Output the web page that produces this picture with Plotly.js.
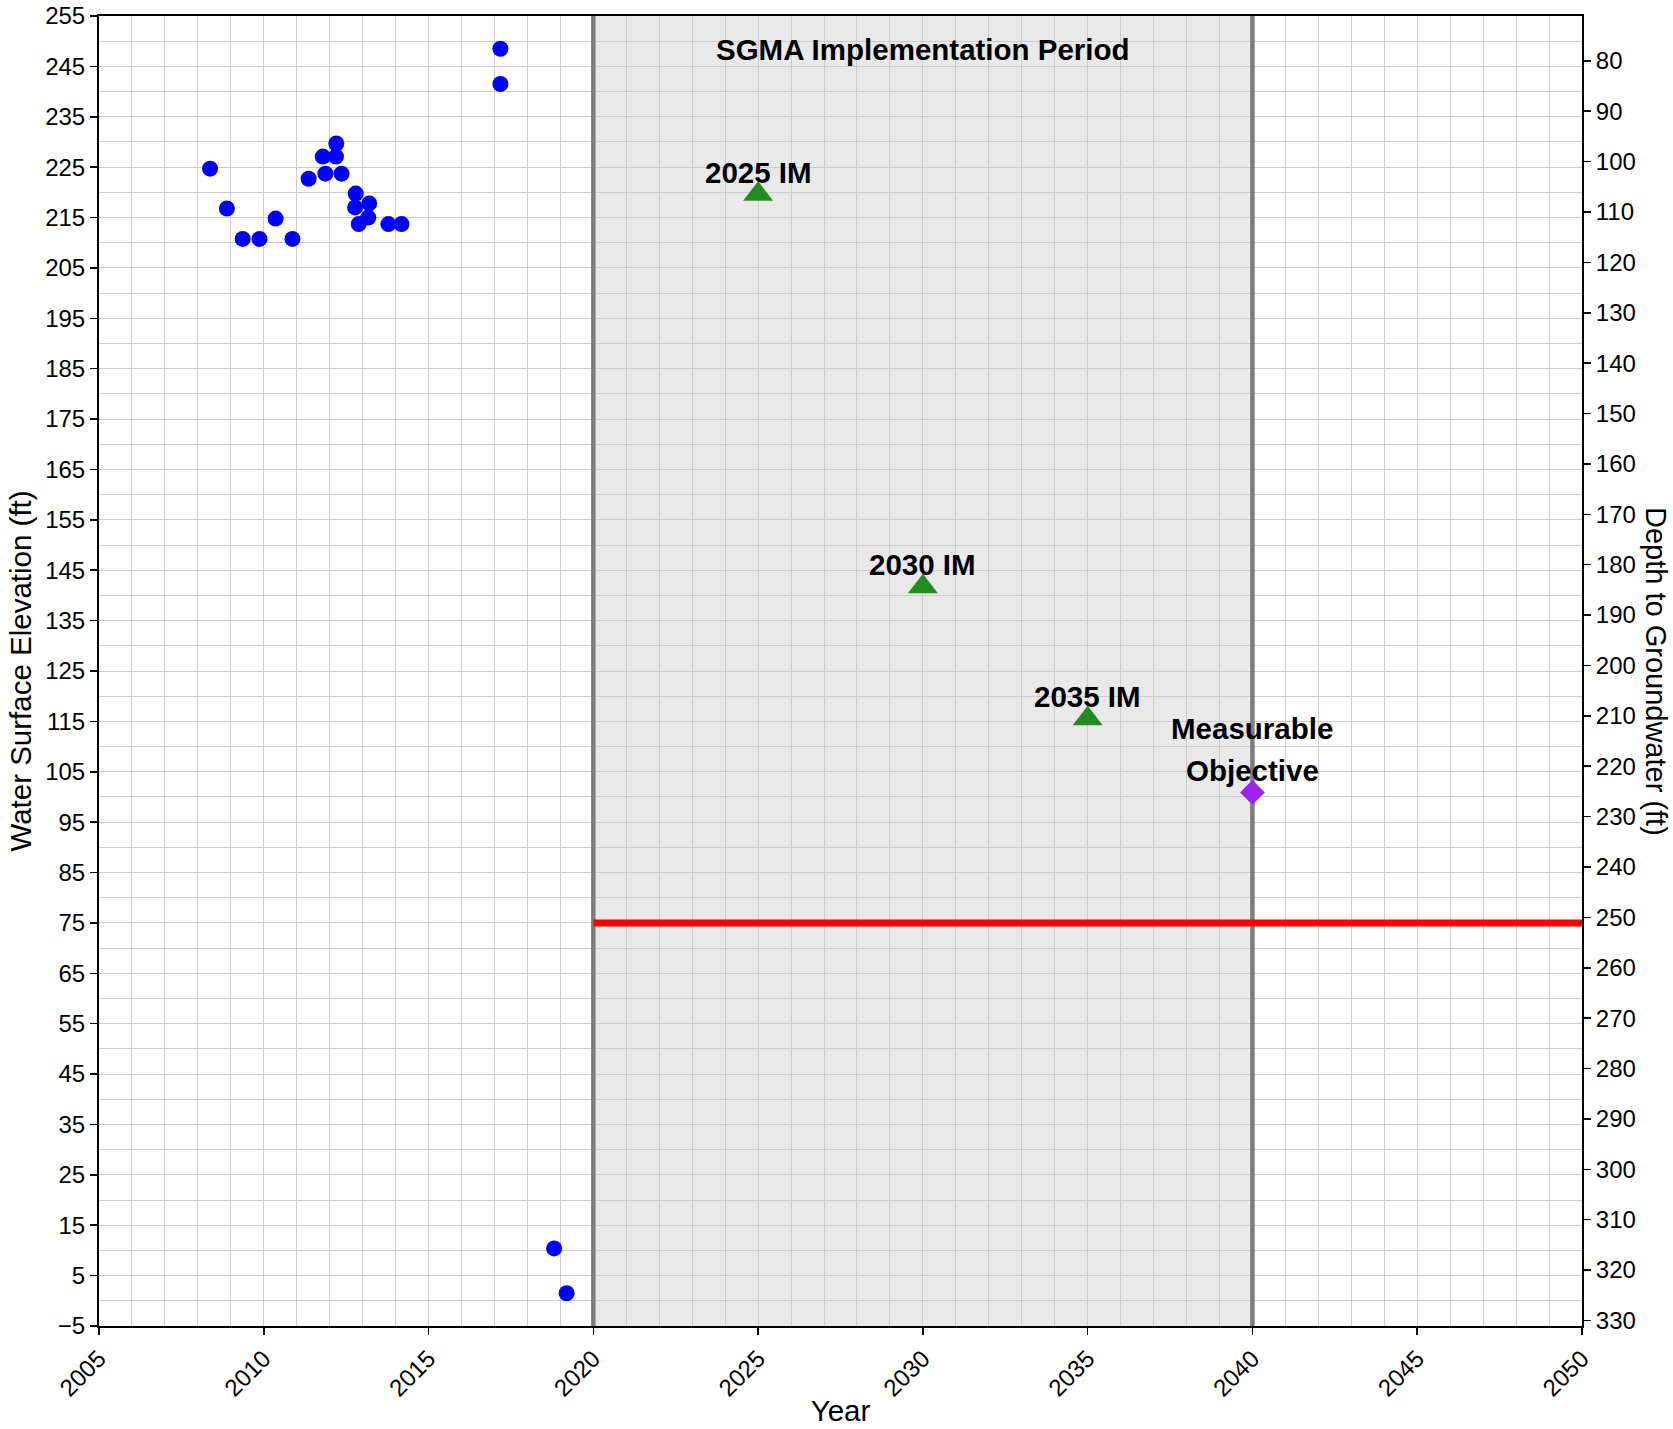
<!DOCTYPE html>
<html>
<head>
<meta charset="utf-8">
<script src="https://cdn.plot.ly/plotly-3.0.1.min.js"></script>
<style>html,body{margin:0;padding:0;background:#fff;}#chart{width:1673px;height:1429px;}</style>
</head>
<body>
<div id="chart"></div>
<script>
// Observed water surface elevations (ft)
const obsYears = [2008.37, 2008.88, 2009.36, 2009.87, 2010.36, 2010.87, 2011.36, 2011.79, 2011.87, 2012.19, 2012.20, 2012.36, 2012.77, 2012.79, 2012.88, 2013.17, 2013.20, 2013.78, 2014.18, 2017.18, 2017.18, 2018.81, 2019.19];
const obsElev  = [224.7, 216.8, 210.75, 210.75, 214.8, 210.75, 222.7, 227.1, 223.7, 227.1, 229.7, 223.7, 217.0, 219.75, 213.7, 215.0, 217.8, 213.7, 213.7, 248.5, 241.5, 10.4, 1.5];

// Interim milestones
const imYears  = [2025, 2030, 2035];
const imElev   = [219.6, 141.7, 115.5];
const imLabels = ['2025 IM', '2030 IM', '2035 IM'];

// Measurable objective
const moYear = [2040];
const moElev = [100.9];

// Minimum threshold line
const mtYears = [2020, 2050];
const mtElev  = [75, 75];

// SGMA implementation period
const sgmaStart = 2020;
const sgmaEnd   = 2040;

// Ground surface elevation (depth = ground - elevation)
const groundElev = 326.1;
const elevRange = [-5, 255];
const yearRange = [2005, 2050];

const FONT = 'Liberation Sans, Arial, Helvetica, sans-serif';
const GRID = '#cccccc';
const TICK = 24;
const TITLE = 29.5;
const ANN = 29.5;

const periodLine = (yr) => ({x: [yr, yr], y: elevRange, type: 'scatter', mode: 'lines',
  line: {color: '#7d7d7d', width: 4.5}, hoverinfo: 'skip', showlegend: false, cliponaxis: true});

const traces = [
  periodLine(sgmaStart),
  periodLine(sgmaEnd),
  {x: obsYears, y: obsElev, type: 'scatter', mode: 'markers',
   marker: {color: '#0000ff', size: 16}, hoverinfo: 'skip', showlegend: false},
  {x: mtYears, y: mtElev, type: 'scatter', mode: 'lines',
   line: {color: '#ff0000', width: 7}, hoverinfo: 'skip', showlegend: false},
  {x: imYears, y: imElev, type: 'scatter', mode: 'markers',
   marker: {color: '#228b22', size: 26, symbol: 'triangle-up'}, hoverinfo: 'skip', showlegend: false},
  {x: moYear, y: moElev, type: 'scatter', mode: 'markers',
   marker: {color: '#a020f0', size: 19, symbol: 'diamond'}, hoverinfo: 'skip', showlegend: false},
  // invisible trace to bind the right (depth) axis
  {x: yearRange, y: [groundElev - elevRange[0], groundElev - elevRange[1]], yaxis: 'y2', type: 'scatter',
   mode: 'markers', marker: {opacity: 0}, hoverinfo: 'skip', showlegend: false}
];

const annotations = [];
imYears.forEach((yr, i) => {
  annotations.push({x: yr, y: imElev[i], xref: 'x', yref: 'y', text: '<b>' + imLabels[i] + '</b>',
    showarrow: false, xanchor: 'center', yanchor: 'middle', yshift: 22,
    font: {family: FONT, size: ANN, color: '#000'}});
});
annotations.push({x: moYear[0], y: moElev[0], xref: 'x', yref: 'y', text: '<b>Measurable</b>',
  showarrow: false, xanchor: 'center', yanchor: 'middle', yshift: 64,
  font: {family: FONT, size: ANN, color: '#000'}});
annotations.push({x: moYear[0], y: moElev[0], xref: 'x', yref: 'y', text: '<b>Objective</b>',
  showarrow: false, xanchor: 'center', yanchor: 'middle', yshift: 22,
  font: {family: FONT, size: ANN, color: '#000'}});
annotations.push({x: (sgmaStart + sgmaEnd) / 2, y: 248.4, xref: 'x', yref: 'y',
  text: '<b>SGMA Implementation Period</b>', showarrow: false, xanchor: 'center', yanchor: 'middle',
  font: {family: FONT, size: ANN, color: '#000'}});
annotations.push({x: 1, y: 0.5, xref: 'paper', yref: 'paper', text: 'Depth to Groundwater (ft)',
  textangle: 90, showarrow: false, xanchor: 'center', yanchor: 'middle', xshift: 74,
  font: {family: FONT, size: 29, color: '#000'}});

const layout = {
  width: 1673, height: 1429,
  margin: {l: 99, r: 91, t: 16, b: 103, pad: 0},
  paper_bgcolor: '#ffffff', plot_bgcolor: '#ffffff',
  font: {family: FONT, size: TICK, color: '#000'},
  showlegend: false,
  xaxis: {
    range: yearRange, tick0: 2005, dtick: 5, tickangle: -45,
    ticks: 'outside', ticklen: 7, tickwidth: 1.5, tickcolor: '#000',
    showline: true, linecolor: '#000', linewidth: 2, mirror: true,
    showgrid: true, gridcolor: GRID, gridwidth: 1,
    minor: {dtick: 1, showgrid: true, gridcolor: GRID, gridwidth: 1, ticks: ''},
    zeroline: false,
    tickfont: {family: FONT, size: TICK, color: '#000'},
    title: {text: 'Year', font: {family: FONT, size: TITLE, color: '#000'}, standoff: 0}
  },
  yaxis: {
    range: elevRange, tick0: 5, dtick: 10,
    ticks: 'outside', ticklen: 7, tickwidth: 1.5, tickcolor: '#000',
    showline: true, linecolor: '#000', linewidth: 2, mirror: true,
    showgrid: true, gridcolor: GRID, gridwidth: 1,
    minor: {dtick: 5, showgrid: true, gridcolor: GRID, gridwidth: 1, ticks: ''},
    zeroline: false,
    tickfont: {family: FONT, size: TICK, color: '#000'},
    title: {text: 'Water Surface Elevation (ft)', font: {family: FONT, size: TITLE, color: '#000'}, standoff: 5}
  },
  yaxis2: {
    overlaying: 'y', side: 'right',
    range: [groundElev - elevRange[0], groundElev - elevRange[1]],
    tick0: 0, dtick: 10,
    ticks: 'outside', ticklen: 7, tickwidth: 1.5, tickcolor: '#000',
    showline: true, linecolor: '#000', linewidth: 2,
    showgrid: false, zeroline: false,
    tickfont: {family: FONT, size: TICK, color: '#000'}
  },
  shapes: [
    {type: 'rect', xref: 'x', yref: 'paper', x0: sgmaStart, x1: sgmaEnd, y0: 0, y1: 1,
     fillcolor: '#e9e9e9', line: {width: 0}, layer: 'below'}
  ],
  annotations: annotations
};

Plotly.newPlot('chart', traces, layout, {displayModeBar: false, staticPlot: true});
</script>
</body>
</html>
